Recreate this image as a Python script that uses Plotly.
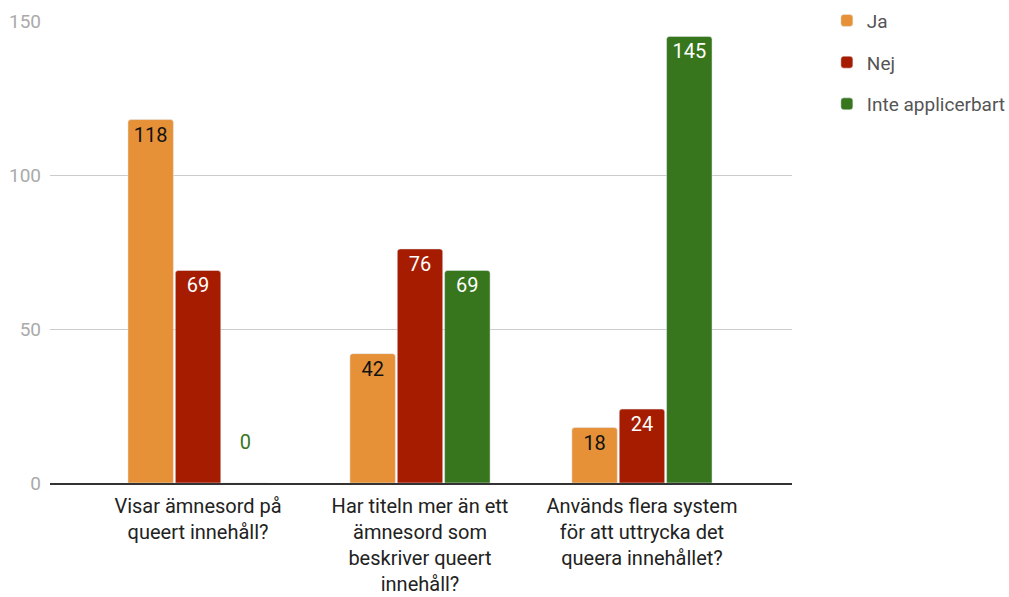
import plotly.graph_objects as go

categories = [
    "Visar ämnesord på<br>queert innehåll?",
    "Har titeln mer än ett<br>ämnesord som<br>beskriver queert<br>innehåll?",
    "Används flera system<br>för att uttrycka det<br>queera innehållet?",
]
series_names = ["Ja", "Nej", "Inte applicerbart"]
ja = [118, 42, 18]
nej = [69, 76, 24]
inte = [0, 69, 145]
colors = ["#E69138", "#A61C00", "#38761D"]
label_colors = ["#111111", "#FFFFFF", "#FFFFFF"]
y_ticks = [0, 50, 100, 150]

fig = go.Figure()
for name, vals, col, lcol in zip(series_names, [ja, nej, inte], colors, label_colors):
    positions = ["inside" if v > 0 else "outside" for v in vals]
    tcolors = [lcol if v > 0 else col for v in vals]
    texts = [str(v) if v > 0 else str(v) + "<br>&nbsp;" for v in vals]
    fig.add_trace(go.Bar(
        name=name, x=categories, y=vals, marker_color=col,
        legendgroup=name,
        text=texts, textposition=positions,
        insidetextanchor="end", textangle=0,
        textfont=dict(color=tcolors, size=20, family="Roboto"),
        cliponaxis=False,
    ))

fig.update_layout(
    width=1009, height=597,
    margin=dict(l=50, r=217, t=21, b=114, autoexpand=False),
    paper_bgcolor="white", plot_bgcolor="white",
    barmode="group", bargap=0.36, bargroupgap=0.04,
    barcornerradius=3,
    font=dict(family="Roboto", size=20, color="#222222"),
    legend=dict(x=1.047, y=1.042, xanchor="left", yanchor="top",
                font=dict(size=19, color="#555555"), tracegroupgap=14,
                itemwidth=30),
)
fig.update_xaxes(range=[-0.667, 2.676], showline=True, linecolor="#333333",
                 linewidth=1.5, ticks="", tickfont=dict(size=20, color="#222222"),
                 ticklabelstandoff=4)
fig.update_yaxes(range=[0, 150], tickvals=y_ticks, showgrid=True, gridcolor="#CCCCCC",
                 gridwidth=1, zeroline=False, tickfont=dict(size=19, color="#AAAAAA"),
                 ticklabelstandoff=8)
fig.write_html("out.html", config={"displayModeBar": False},
               post_script="document.body.style.margin='0';")
